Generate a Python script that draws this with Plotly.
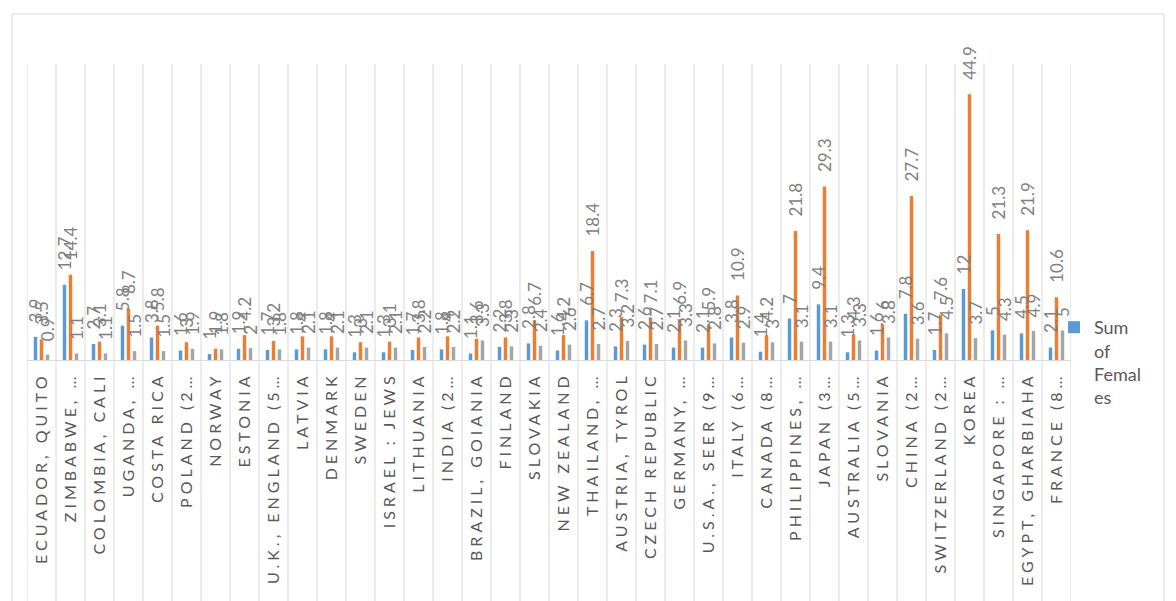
import plotly.graph_objects as go

categories = ["ECUADOR, QUITO", "ZIMBABWE, …", "COLOMBIA, CALI", "UGANDA, …", "COSTA RICA",
              "POLAND (2…", "NORWAY", "ESTONIA", "U.K., ENGLAND (5…", "LATVIA", "DENMARK",
              "SWEDEN", "ISRAEL : JEWS", "LITHUANIA", "INDIA (2…", "BRAZIL, GOIANIA", "FINLAND",
              "SLOVAKIA", "NEW ZEALAND", "THAILAND, …", "AUSTRIA, TYROL", "CZECH REPUBLIC",
              "GERMANY, …", "U.S.A., SEER (9…", "ITALY (6…", "CANADA (8…", "PHILIPPINES, …",
              "JAPAN (3…", "AUSTRALIA (5…", "SLOVANIA", "CHINA (2…", "SWITZERLAND (2…",
              "KOREA", "SINGAPORE : …", "EGYPT, GHARBIAHA", "FRANCE (8…"]

series1 = [3.9, 12.7, 2.7, 5.8, 3.8, 1.6, 1.0, 1.9, 1.7, 1.8, 1.8, 1.3, 1.3, 1.7, 1.8, 1.1, 2.2, 2.8,
           1.6, 6.7, 2.3, 2.6, 2.1, 2.1, 3.8, 1.4, 7, 9.4, 1.3, 1.6, 7.8, 1.7, 12, 5, 4.5, 2.1]
series2 = [3.5, 14.4, 3.1, 8.7, 5.8, 3, 1.9, 4.2, 3.2, 4, 4, 3, 3.1, 3.8, 4, 3.6, 3.8, 6.7,
           4.2, 18.4, 7.3, 7.1, 6.9, 5.9, 10.9, 4.2, 21.8, 29.3, 4.3, 6, 27.7, 7.6, 44.9, 21.3, 21.9, 10.6]
series3 = [0.9, 1.1, 1.1, 1.5, 1.5, 1.9, 1.8, 2, 1.8, 2.1, 2.1, 2.1, 2.1, 2.2, 2.2, 3.3, 2.3, 2.4,
           2.6, 2.7, 3.2, 2.7, 3.3, 2.8, 2.9, 3, 3.1, 3.1, 3.3, 3.8, 3.6, 4.5, 3.7, 4.3, 4.9, 5]

series_names = ["Sum of Females", "Sum of Males", "Sum of Total"]
legend_labels = ["Sum<br>of<br>Femal<br>es", "Sum of Males", "Sum of Total"]
colors = ["#5B9BD5", "#ED7D31", "#A5A5A5"]

FONT = "Lato, 'Noto Sans', sans-serif"
W, H = 1176, 601
L, R, T, B = 27, 105, 64, 241
pw, ph = W - L - R, H - T - B
BARGAP, GROUPGAP = 0.38, 0.42
n = len(categories)
slot = (pw / n) * (1 - BARGAP) / 3

fig = go.Figure()
annotations = []
all_series = [series1, series2, series3]
for i, (vals, nm, lg, col) in enumerate(zip(all_series, series_names, legend_labels, colors)):
    fig.add_trace(go.Bar(
        x=categories, y=vals, name=lg, marker_color=col, marker_line_width=0,
        showlegend=(i == 0), cliponaxis=False,
        hovertemplate=nm + ": %{y}<extra>%{x}</extra>",
    ))
    for c, v in zip(categories, vals):
        annotations.append(dict(
            x=c, y=v, xref="x", yref="y", text=f"{v:g}", showarrow=False,
            textangle=-90, xanchor="center", yanchor="bottom",
            xshift=(i - 1) * slot, yshift=12,
            font=dict(size=17, color="#7F7F7F", family=FONT),
        ))

shapes = []
for k in range(n + 1):
    shapes.append(dict(type="line", xref="x", yref="paper", x0=k - 0.5, x1=k - 0.5,
                       y0=-(B + 5) / ph, y1=1, line=dict(color="#D9D9D9", width=1), layer="below"))
shapes.append(dict(type="rect", xref="paper", yref="paper",
                   x0=(12 - L) / pw, x1=(1164 - L) / pw, y0=-(B + 20) / ph, y1=(H - B - 14) / ph,
                   line=dict(color="#D9D9D9", width=1), layer="below"))

fig.update_layout(
    width=W, height=H, margin=dict(l=L, r=R, t=T, b=B, pad=0),
    paper_bgcolor="white", plot_bgcolor="white",
    barmode="group", bargap=BARGAP, bargroupgap=GROUPGAP,
    font=dict(family=FONT, color="#595959"),
    shapes=shapes, annotations=annotations,
    showlegend=True,
    legend=dict(x=(1054 - L) / pw, xanchor="left", y=(H - B - 309) / ph, yanchor="top",
                font=dict(size=18, color="#595959", family=FONT), valign="top",
                bgcolor="rgba(0,0,0,0)", itemwidth=30, tracegroupgap=0),
    xaxis=dict(type="category", range=[-0.5, n - 0.5], showgrid=False,
               showline=True, linecolor="#D9D9D9", linewidth=1,
               ticks="outside", ticklen=5, tickcolor="rgba(0,0,0,0)",
               tickangle=-90, tickfont=dict(size=16, color="#595959", family=FONT),
               fixedrange=True),
    yaxis=dict(range=[0, 50], visible=False, showgrid=False, zeroline=False, fixedrange=True),
)

post_script = """
var gd = document.getElementById('{plot_id}');
function spaceTicks(){
  gd.querySelectorAll('.xtick text').forEach(function(t){ t.setAttribute('letter-spacing', '4px'); });
}
spaceTicks();
gd.on('plotly_afterplot', spaceTicks);
"""

fig.write_html("out.html", post_script=post_script)
